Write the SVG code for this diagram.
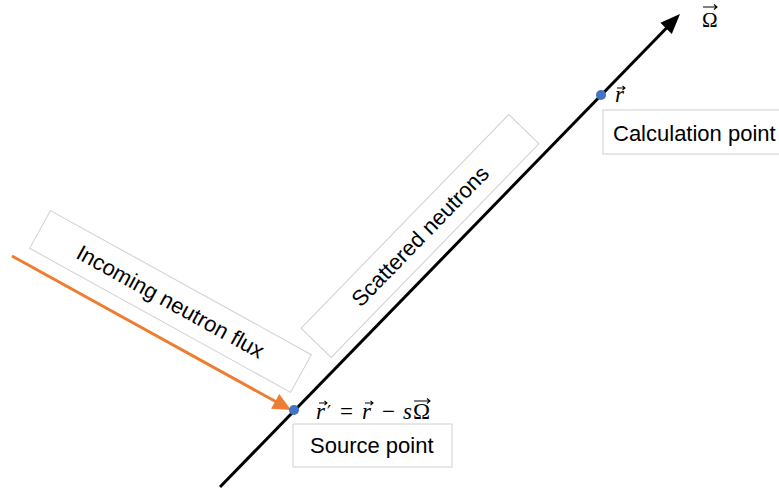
<svg xmlns="http://www.w3.org/2000/svg" width="779" height="490" viewBox="0 0 779 490">
<style>
.box{fill:#ffffff;stroke:#d0d0d0;stroke-width:1}
.lbl{font-family:"Liberation Sans",Arial,sans-serif;font-size:22px;fill:#000}
.math{font-family:"Liberation Serif","DejaVu Serif",serif;font-size:23px;fill:#000}
.it{font-style:italic}
.dot{fill:#4472C4}
.vec{fill:none;stroke:#000;stroke-width:1.1}
</style>
<rect width="779" height="490" fill="#ffffff"/>
<g id="incoming-label">
<rect class="box" x="-149" y="-21.5" width="298" height="43" transform="translate(170.5,301.5) rotate(28.9)"/>
<text class="lbl" text-anchor="middle" dy="0.35em" transform="translate(170.5,301.5) rotate(28.9)">Incoming neutron flux</text>
</g>
<g id="scattered-label">
<rect class="box" x="-149" y="-21" width="298" height="42" transform="translate(420,236) rotate(-45.8)"/>
<text class="lbl" text-anchor="middle" dy="0.35em" transform="translate(420,236) rotate(-45.8)">Scattered neutrons</text>
</g>
<g id="connectors">
<line x1="220" y1="487" x2="667" y2="27.5" stroke="#000" stroke-width="3"/>
<polygon points="680,14 660.4,22.7 671.8,33.9" fill="#000"/>
<line x1="12" y1="256" x2="277" y2="402.3" stroke="#ED7D31" stroke-width="3"/>
<polygon points="291,410 271.1,408.7 279.3,393.9" fill="#ED7D31"/>
</g>
<g id="omega-label">
<text class="math" x="702" y="27" style="font-size:21px">Ω</text>
<path class="vec" d="M703,7 H717 M714,4.5 L717,7 L714,9.5"/>
</g>
<g id="calc-point">
<circle class="dot" cx="601" cy="95" r="5"/>
<text class="math it" x="615" y="102">r</text>
<path class="vec" d="M617,88 H625 M622.5,85.8 L625,88 L622.5,90.2"/>
<rect class="box" x="603" y="110" width="180" height="44"/>
<text class="lbl" x="613" y="141">Calculation point</text>
</g>
<g id="source-point">
<circle class="dot" cx="294" cy="410" r="5"/>
<text class="math" y="419"><tspan class="it" x="316">r</tspan><tspan x="327" style="font-family:'DejaVu Serif',serif;font-size:18px">′</tspan><tspan x="340">=</tspan><tspan class="it" x="362">r</tspan><tspan x="382">−</tspan><tspan class="it" x="403">s</tspan><tspan x="413">Ω</tspan></text>
<path class="vec" d="M319,403 H327 M324.5,400.8 L327,403 L324.5,405.2"/>
<path class="vec" d="M365,403 H373 M370.5,400.8 L373,403 L370.5,405.2"/>
<path class="vec" d="M414,401 H430 M427,398.5 L430,401 L427,403.5"/>
<rect class="box" x="293" y="424" width="159" height="43"/>
<text class="lbl" x="310" y="453">Source point</text>
</g>
</svg>
